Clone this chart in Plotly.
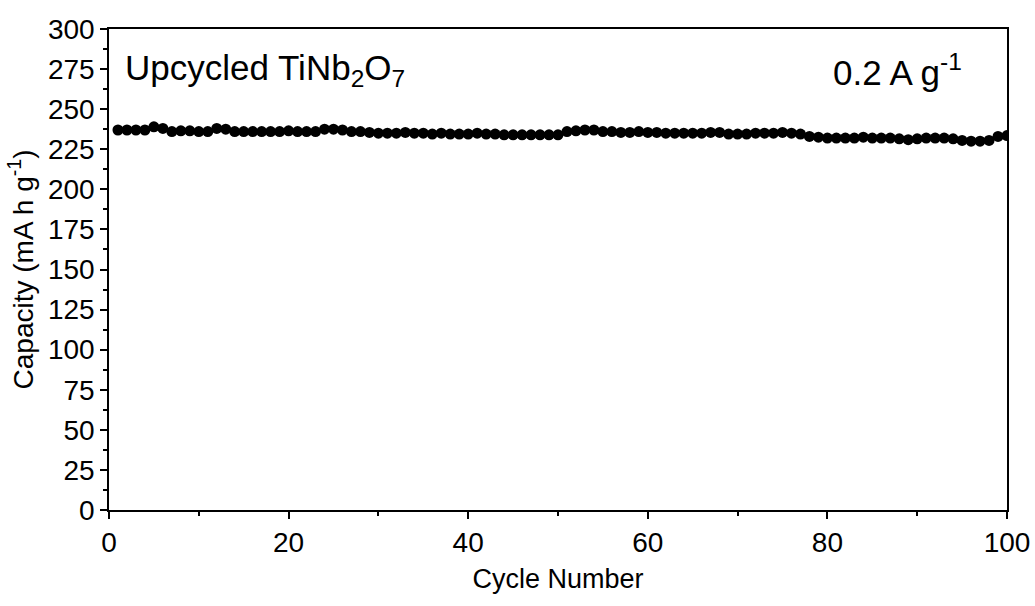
import plotly.graph_objects as go

cycles = list(range(1, 101))
capacity = [
    237, 237, 237, 237, 239, 238, 236, 236.5, 236.5, 236,
    236, 238, 237.5, 236, 236, 236, 236, 236, 236, 236.5,
    236, 236, 236, 237.5, 237.5, 237, 236, 236, 235.5, 235,
    235, 235, 235.5, 235, 235, 234.5, 235, 234.5, 234.5, 234.5,
    235, 234.5, 234.5, 234, 234, 234, 234, 234, 234, 234,
    236, 236.5, 237, 237, 236, 236, 235.5, 235.5, 236, 235.5,
    235.5, 235, 235, 235, 235, 235, 235.5, 235.5, 234.5, 234.5,
    234.5, 235, 235, 235, 235.5, 235, 234.5, 233, 232.5, 232,
    232, 232, 232, 232.5, 232, 232, 232, 231.5, 231, 231.5,
    232, 232, 232, 231.5, 230.5, 230, 230, 230.5, 233, 233.5,
]
x_ticks = [0, 20, 40, 60, 80, 100]
y_ticks = list(range(0, 301, 25))

FONT = "Liberation Sans"

fig = go.Figure()
fig.add_trace(go.Scatter(
    x=cycles, y=capacity, mode="markers",
    marker=dict(symbol="circle", size=11, color="black"),
    cliponaxis=True, showlegend=False,
))

axis_common = dict(
    showgrid=False, zeroline=False, showline=True, linecolor="black",
    linewidth=1.5, mirror=True, ticks="outside", tickwidth=1.5,
    ticklen=7, tickcolor="black", automargin=False,
    tickfont=dict(family=FONT, size=28, color="black"),
)

fig.update_layout(
    width=1035, height=606,
    margin=dict(l=109, r=28, t=29, b=96),
    paper_bgcolor="white", plot_bgcolor="white",
    xaxis=dict(range=[0, 100], tickvals=x_ticks,
               minor=dict(dtick=10, ticks="outside", ticklen=4, tickwidth=1.5, tickcolor="black"),
               title=dict(text="Cycle Number", font=dict(family=FONT, size=27, color="black"), standoff=12),
               **axis_common),
    yaxis=dict(range=[0, 300], tickvals=y_ticks,
               minor=dict(dtick=12.5, ticks="outside", ticklen=4, tickwidth=1.5, tickcolor="black"),
               title=dict(text="Capacity (mA h g<sup>-1</sup>)", font=dict(family=FONT, size=28, color="black"), standoff=6),
               **axis_common),
    annotations=[
        dict(text="Upcycled TiNb<sub>2</sub>O<sub>7</sub>", xref="paper", yref="paper",
             x=0.016, y=0.915, xanchor="left", yanchor="middle", showarrow=False,
             font=dict(family=FONT, size=35, color="black")),
        dict(text="0.2 A g<sup>-1</sup>", xref="paper", yref="paper",
             x=0.952, y=0.915, xanchor="right", yanchor="middle", showarrow=False,
             font=dict(family=FONT, size=35, color="black")),
    ],
)

fig.write_html("out.html", config={"displayModeBar": False},
               post_script="document.body.style.margin='0';")
